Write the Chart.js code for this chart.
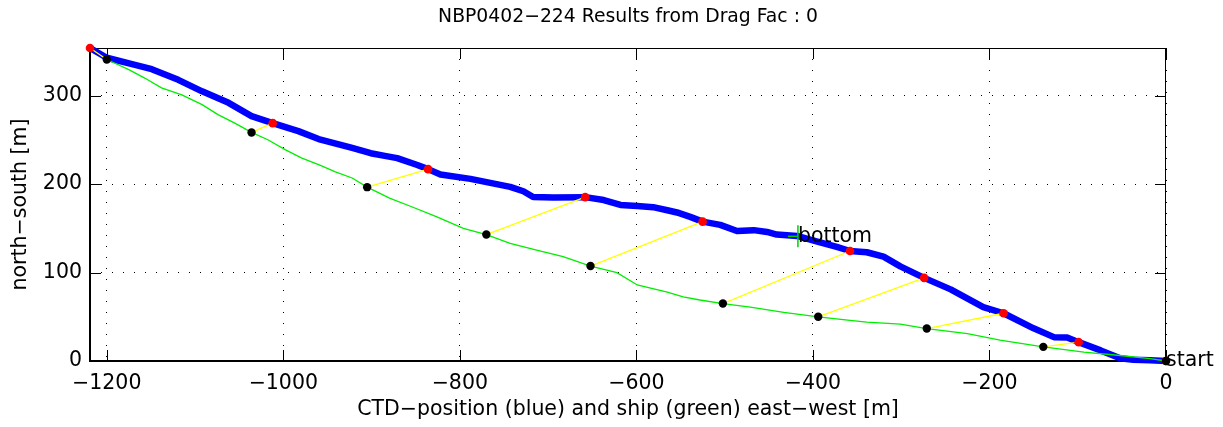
<!DOCTYPE html>
<html>
<head>
<meta charset="utf-8">
<script src="https://cdn.jsdelivr.net/npm/chart.js@4.4.1/dist/chart.umd.min.js"></script>
<style>
  body { margin: 0; background: #fff; }
  canvas { display: block; }
</style>
</head>
<body>
<canvas id="grafico" width="1223" height="427"></canvas>
<script>
// Posición del CTD (azul), este-oeste / norte-sur en metros
const ctdX = [-1219, -1200, -1168, -1149, -1119, -1092, -1062, -1036, -1012, -983, -960, -922,
  -901, -885, -871, -849, -836, -822, -788, -743, -728, -717, -694, -658, -637, -618, -599,
  -581, -565, -554, -539, -525, -505, -486, -467, -452, -441, -418, -395, -373, -358, -339,
  -320, -301, -274, -244, -207, -184, -150, -127, -112, -99, -74, -52, -37, -18, 0];
const ctdY = [354, 343, 335, 330, 318, 305, 292, 277, 269, 260, 251, 241,
  235, 232, 229.5, 222, 217, 211, 206, 197, 192, 185.5, 185, 185.3, 182, 176.5, 175.4,
  174, 170.5, 168, 163, 157.6, 154, 147, 148, 146, 143, 141.4, 135, 129, 124.4, 123,
  118, 107, 94, 81, 61, 54, 37, 27, 26.5, 21.3, 12, 3, 1.5, 0.8, 0];

// Posición del barco (verde)
const barcoX = [0, -18, -55, -93, -139, -188, -225, -271, -301, -339, -358, -394, -433, -471,
  -502, -528, -547, -565, -599, -622, -630, -652, -683, -713, -743, -770, -796, -826, -856,
  -879, -905, -922, -941, -960, -979, -998, -1017, -1036, -1055, -1074, -1092, -1115, -1138,
  -1157, -1175, -1200];
const barcoY = [0, 2.7, 6.5, 10, 16, 23.5, 31, 36.7, 41.6, 44, 46, 50, 55, 61,
  65, 69, 72.6, 78, 86, 100, 102, 107.4, 118, 125.5, 133, 143, 150, 163, 175,
  184, 196.6, 207, 214, 222, 229.5, 239, 250, 258.5, 269, 278.6, 290, 301, 309,
  320, 329.6, 341];

// Marcas emparejadas: CTD (rojo) y barco (negro)
const marcaCtdX = [-1219, -1012, -836, -658, -525, -358, -274, -184, -99, 0];
const marcaCtdY = [354, 269, 217, 185.3, 157.6, 124.4, 94, 54, 21.3, 0];
const marcaBarcoX = [-1200, -1036, -905, -770, -652, -502, -394, -271, -139, 0];
const marcaBarcoY = [341, 258.5, 196.6, 143, 107.4, 65, 50, 36.7, 16, 0];

const fondo = { x: -417, y: 141 };
const inicio = { x: 0, y: 0 };

const ticksX = [-1200, -1000, -800, -600, -400, -200, 0];
const ticksY = [0, 100, 200, 300];
const limX = [-1219, 0];
const limY = [0, 354];

const titulo = 'NBP0402\u2212224 Results from Drag Fac : 0';
const fuente = '"DejaVu Sans", sans-serif';
const menos = v => String(v).replace('-', '\u2212');
const puntos = (xs, ys) => xs.map((x, i) => ({ x: x, y: ys[i] }));

const datasets = [];

datasets.push({
  data: puntos(ctdX, ctdY),
  showLine: true,
  borderColor: '#0000ff',
  borderWidth: 6.5,
  borderCapStyle: 'round',
  borderJoinStyle: 'round',
  pointRadius: 0,
  clip: false,
  order: 5
});

datasets.push({
  data: puntos(barcoX, barcoY),
  showLine: true,
  borderColor: '#00ee00',
  borderWidth: 1.3,
  pointRadius: 0,
  clip: false,
  order: 4
});

// Líneas amarillas entre cada par CTD / barco
for (let i = 0; i < marcaCtdX.length; i++) {
  datasets.push({
    data: [{ x: marcaCtdX[i], y: marcaCtdY[i] }, { x: marcaBarcoX[i], y: marcaBarcoY[i] }],
    showLine: true,
    borderColor: '#ffff00',
    borderWidth: 1.3,
    pointRadius: 0,
    clip: false,
    order: 3
  });
}

datasets.push({
  data: puntos(marcaCtdX, marcaCtdY),
  pointRadius: 4.3,
  pointBackgroundColor: '#ff0000',
  pointBorderWidth: 0,
  clip: false,
  order: 2
});

datasets.push({
  data: puntos(marcaBarcoX, marcaBarcoY),
  pointRadius: 4.2,
  pointBackgroundColor: '#000000',
  pointBorderWidth: 0,
  clip: false,
  order: 1
});

// Marca del fondo: brazo vertical y brazo izquierdo
datasets.push({
  data: [fondo],
  pointStyle: 'line',
  rotation: 90,
  pointRadius: 11,
  pointBorderColor: '#00cc00',
  pointBorderWidth: 1.5,
  clip: false,
  order: 0
});
datasets.push({
  data: [fondo],
  pointStyle: 'dash',
  rotation: 180,
  pointRadius: 10,
  pointBorderColor: '#00cc00',
  pointBorderWidth: 1.5,
  clip: false,
  order: 0
});

// Caja de ejes con marcas hacia dentro, título y etiquetas de texto
const marco = {
  id: 'marco',
  beforeDatasetsDraw(chart) {
    const { ctx, chartArea: a, scales: { x, y } } = chart;
    ctx.save();
    ctx.strokeStyle = '#000';
    ctx.lineWidth = 1;
    ctx.beginPath();
    ctx.moveTo(a.left, a.top + 0.5);
    ctx.lineTo(a.right, a.top + 0.5);
    ctx.moveTo(a.right - 0.5, a.top);
    ctx.lineTo(a.right - 0.5, a.bottom);
    for (const v of ticksX) {
      const px = Math.round(x.getPixelForValue(v)) + 0.5;
      ctx.moveTo(px, a.bottom);
      ctx.lineTo(px, a.bottom - 11);
      ctx.moveTo(px, a.top);
      ctx.lineTo(px, a.top + 11);
    }
    for (const v of ticksY) {
      const py = Math.round(y.getPixelForValue(v)) + 0.5;
      ctx.moveTo(a.left, py);
      ctx.lineTo(a.left + 11, py);
      ctx.moveTo(a.right, py);
      ctx.lineTo(a.right - 11, py);
    }
    ctx.stroke();
    ctx.lineWidth = 2;
    ctx.beginPath();
    ctx.moveTo(a.left, a.top);
    ctx.lineTo(a.left, a.bottom);
    ctx.lineTo(a.right, a.bottom);
    ctx.stroke();
    ctx.restore();
  },
  afterDatasetsDraw(chart) {
    const { ctx, chartArea: a, scales: { x, y } } = chart;
    ctx.save();
    ctx.fillStyle = '#000';
    ctx.textBaseline = 'middle';
    // título centrado sobre el área de datos
    ctx.font = '18.8px ' + fuente;
    ctx.textAlign = 'center';
    ctx.fillText(titulo, (a.left + a.right) / 2, 17);
    ctx.font = '20.5px ' + fuente;
    ctx.textAlign = 'left';
    ctx.fillText('bottom', x.getPixelForValue(fondo.x), y.getPixelForValue(fondo.y));
    ctx.fillText('start', x.getPixelForValue(inicio.x), y.getPixelForValue(inicio.y));
    ctx.restore();
  }
};

new Chart(document.getElementById('grafico').getContext('2d'), {
  type: 'scatter',
  data: { datasets: datasets },
  plugins: [marco],
  options: {
    responsive: false,
    animation: false,
    events: [],
    layout: { padding: { left: 0, right: 57, top: 48, bottom: 0 } },
    plugins: {
      legend: { display: false },
      tooltip: { enabled: false }
    },
    scales: {
      x: {
        type: 'linear',
        min: limX[0],
        max: limX[1],
        afterBuildTicks: s => { s.ticks = ticksX.map(v => ({ value: v })); },
        afterFit: s => { s.height = 66; },
        ticks: {
          color: '#000',
          padding: 10,
          maxRotation: 0,
          font: { family: fuente, size: 20.5 },
          callback: v => menos(v)
        },
        grid: { color: '#000', lineWidth: 1, drawTicks: false },
        border: { display: false, dash: [1, 10] },
        title: {
          display: true,
          text: 'CTD\u2212position (blue) and ship (green) east\u2212west [m]',
          color: '#000',
          font: { family: fuente, size: 20.5, lineHeight: 1.2 },
          padding: { top: 0, bottom: 5 }
        }
      },
      y: {
        type: 'linear',
        min: limY[0],
        max: limY[1],
        afterBuildTicks: s => { s.ticks = ticksY.map(v => ({ value: v })); },
        afterFit: s => { s.width = 90; },
        ticks: {
          color: '#000',
          padding: 8,
          font: { family: fuente, size: 20.5 },
          callback: v => menos(v)
        },
        grid: { color: '#000', lineWidth: 1, drawTicks: false },
        border: { display: false, dash: [1, 10] },
        title: {
          display: true,
          text: 'north\u2212south [m]',
          color: '#000',
          font: { family: fuente, size: 20.5, lineHeight: 1.2 },
          padding: { top: 8, bottom: 0 }
        }
      }
    }
  }
});
</script>
</body>
</html>
